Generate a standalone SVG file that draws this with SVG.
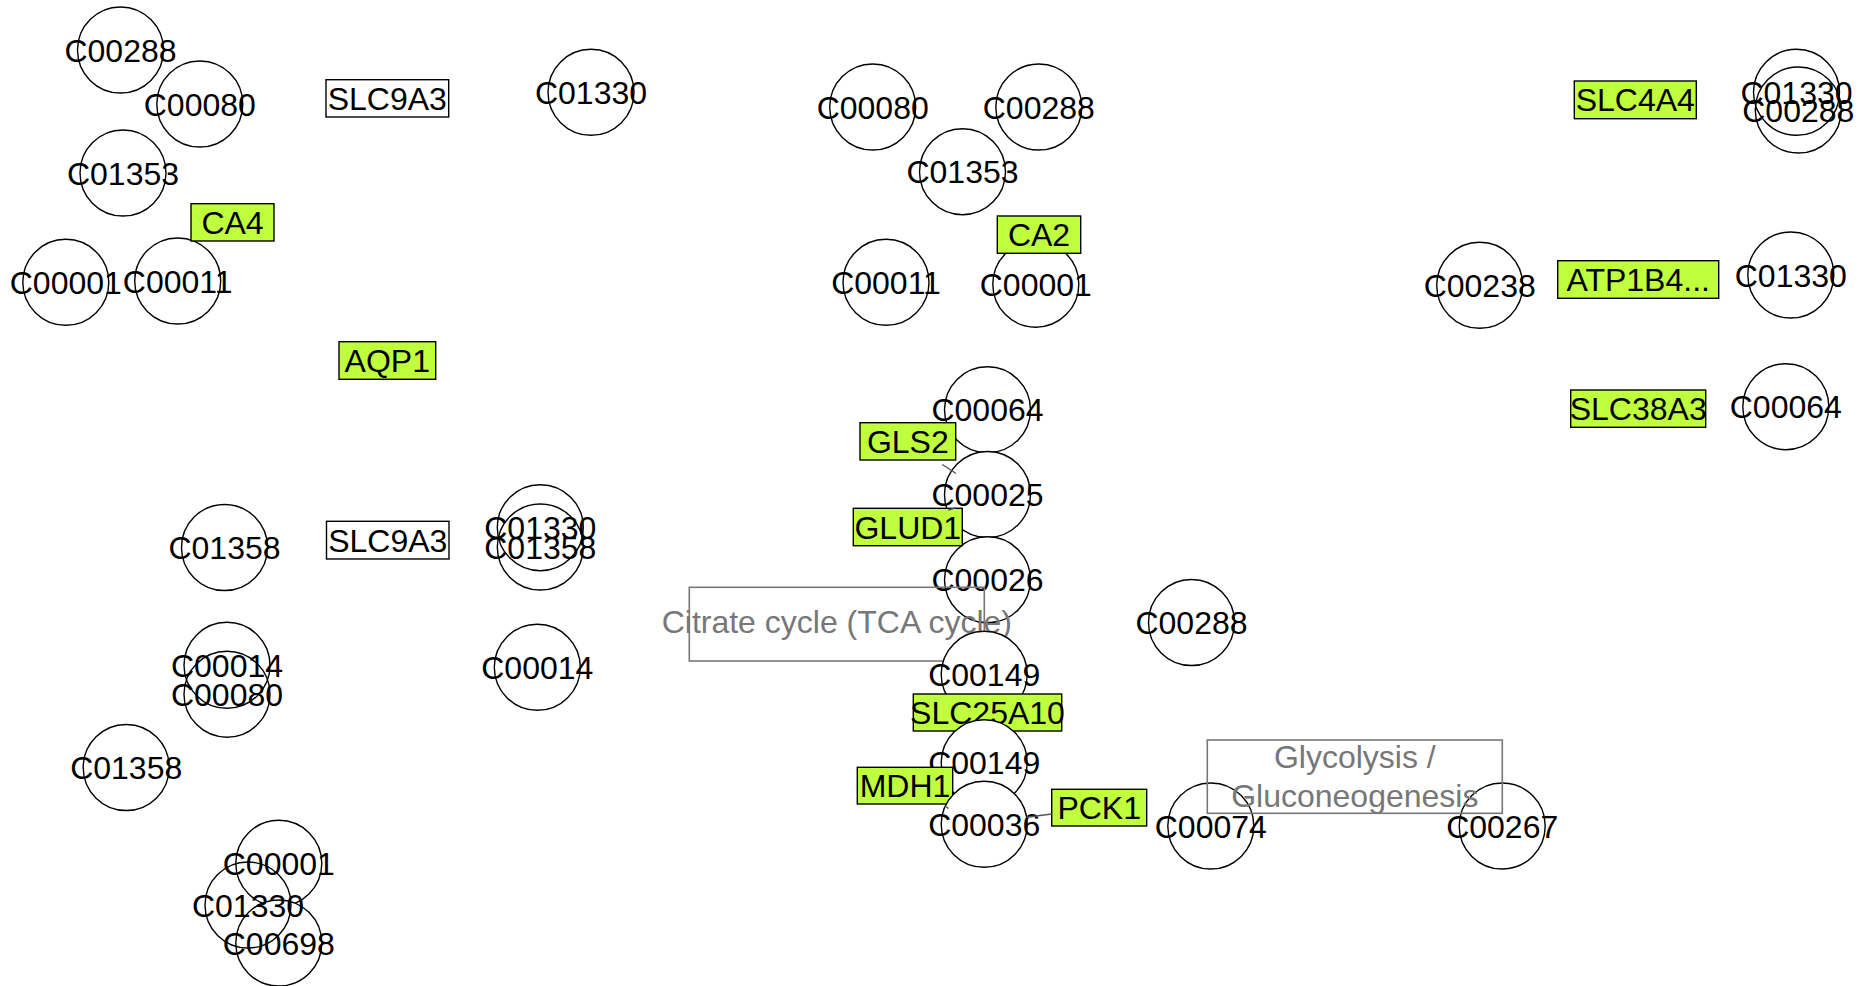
<svg xmlns="http://www.w3.org/2000/svg" width="1869" height="986" viewBox="0 0 1869 986">
<style>
  .bg { fill: #ffffff; }
  .cpd circle { fill: #ffffff; stroke: #000000; stroke-width: 1.4; }
  .cpd.open circle { fill: none; }
  .gene rect { fill: #c0ff3e; stroke: #000000; stroke-width: 1.4; }
  .gene.plain rect { fill: #ffffff; }
  .path rect { fill: none; stroke: #777777; stroke-width: 1.6; }
  text { font-family: "Liberation Sans", Arial, sans-serif; font-size: 32px; text-anchor: middle; fill: #000000; }
  .path text { fill: #777777; }
  #edges line { stroke: #555555; stroke-width: 1.4; fill: none; }
</style>
<rect class="bg" x="0" y="0" width="1869" height="986"/>

<!-- left cluster -->
<g id="n-C00288-a" class="cpd"><circle cx="120.5" cy="50" r="43"/><text x="120.5" y="61.5">C00288</text></g>
<g id="n-C00080-a" class="cpd"><circle cx="199.8" cy="104" r="43"/><text x="199.8" y="115.5">C00080</text></g>
<g id="n-C01353-a" class="cpd"><circle cx="123" cy="173" r="43"/><text x="123" y="184.5">C01353</text></g>
<g id="n-C00001-a" class="cpd"><circle cx="65.8" cy="282.3" r="43"/><text x="65.8" y="293.8">C00001</text></g>
<g id="n-C00011-a" class="cpd"><circle cx="177.7" cy="281" r="43"/><text x="177.7" y="292.5">C00011</text></g>
<g id="n-CA4" class="gene"><rect x="191" y="203.7" width="83" height="37.3"/><text x="232.5" y="233.8">CA4</text></g>
<g id="n-SLC9A3-a" class="gene plain"><rect x="326" y="79.7" width="122.7" height="37.3"/><text x="387.3" y="109.8">SLC9A3</text></g>
<g id="n-C01330-a" class="cpd"><circle cx="591" cy="92.3" r="43"/><text x="591" y="103.8">C01330</text></g>
<g id="n-AQP1" class="gene"><rect x="339" y="341.7" width="96.7" height="37.6"/><text x="387.3" y="372">AQP1</text></g>

<g id="n-C01358-a" class="cpd"><circle cx="224.5" cy="547.5" r="43"/><text x="224.5" y="559">C01358</text></g>
<g id="n-SLC9A3-b" class="gene plain"><rect x="326.5" y="521.3" width="122.5" height="37.7"/><text x="387.8" y="551.6">SLC9A3</text></g>
<g id="n-C01358-b" class="cpd"><circle cx="540.3" cy="547" r="43"/><text x="540.3" y="558.5">C01358</text></g>
<g id="n-C01330-b" class="cpd open"><circle cx="540.3" cy="527.7" r="43"/><text x="540.3" y="539.2">C01330</text></g>
<g id="n-C00014-a" class="cpd"><circle cx="227" cy="665.3" r="43"/><text x="227" y="676.8">C00014</text></g>
<g id="n-C00080-b" class="cpd open"><circle cx="227" cy="694.2" r="43"/><text x="227" y="705.7">C00080</text></g>
<g id="n-C00014-b" class="cpd"><circle cx="537.3" cy="667.3" r="43"/><text x="537.3" y="678.8">C00014</text></g>
<g id="n-C01358-c" class="cpd"><circle cx="126.2" cy="767.5" r="43"/><text x="126.2" y="779">C01358</text></g>
<g id="n-C00001-b" class="cpd"><circle cx="278.8" cy="863.3" r="43"/><text x="278.8" y="874.8">C00001</text></g>
<g id="n-C00698" class="cpd"><circle cx="278.8" cy="943" r="43"/><text x="278.8" y="954.5">C00698</text></g>
<g id="n-C01330-c" class="cpd open"><circle cx="248" cy="905" r="43"/><text x="248" y="916.5">C01330</text></g>

<!-- middle cluster -->
<g id="n-C00080-c" class="cpd"><circle cx="872.7" cy="107" r="43"/><text x="872.7" y="118.5">C00080</text></g>
<g id="n-C00288-b" class="cpd"><circle cx="1038.8" cy="107" r="43"/><text x="1038.8" y="118.5">C00288</text></g>
<g id="n-C01353-b" class="cpd"><circle cx="962.5" cy="171.7" r="43"/><text x="962.5" y="183.2">C01353</text></g>
<g id="n-C00011-b" class="cpd"><circle cx="886" cy="282.3" r="43"/><text x="886" y="293.8">C00011</text></g>
<g id="n-C00001-c" class="cpd"><circle cx="1035.8" cy="284.2" r="43"/><text x="1035.8" y="295.7">C00001</text></g>
<g id="n-CA2" class="gene"><rect x="997.3" y="216" width="83.4" height="37.3"/><text x="1039" y="246.1">CA2</text></g>

<g id="n-C00064-a" class="cpd"><circle cx="987.5" cy="409.8" r="43"/><text x="987.5" y="421.3">C00064</text></g>
<g id="n-C00025" class="cpd"><circle cx="987.5" cy="494.5" r="43"/><text x="987.5" y="506">C00025</text></g>
<g id="n-C00026" class="cpd"><circle cx="987.5" cy="579.8" r="43"/><text x="987.5" y="591.3">C00026</text></g>
<g id="n-GLS2" class="gene"><rect x="860" y="422.7" width="95.7" height="37.3"/><text x="907.8" y="452.8">GLS2</text></g>
<g id="n-GLUD1" class="gene"><rect x="853.3" y="508.3" width="109" height="37.4"/><text x="907.8" y="538.5">GLUD1</text></g>
<g id="n-citrate-cycle" class="path"><rect x="689.3" y="587.3" width="295" height="73.7"/><text x="836.8" y="633.3">Citrate cycle (TCA cycle)</text></g>
<g id="n-C00149-a" class="cpd"><circle cx="984.2" cy="674.3" r="43"/><text x="984.2" y="685.8">C00149</text></g>
<g id="n-SLC25A10" class="gene"><rect x="913.3" y="694" width="148.4" height="37"/><text x="987.5" y="723.8">SLC25A10</text></g>
<g id="n-C00149-b" class="cpd"><circle cx="984.2" cy="762.7" r="43"/><text x="984.2" y="774.2">C00149</text></g>
<g id="n-MDH1" class="gene"><rect x="857.3" y="767.3" width="95.4" height="36.7"/><text x="905" y="797.2">MDH1</text></g>
<g id="n-C00036" class="cpd"><circle cx="984.2" cy="824.3" r="43"/><text x="984.2" y="835.8">C00036</text></g>
<g id="n-PCK1" class="gene"><rect x="1051.7" y="789.3" width="95" height="36.7"/><text x="1099.2" y="819.2">PCK1</text></g>
<g id="n-C00288-c" class="cpd"><circle cx="1191.5" cy="622.5" r="43"/><text x="1191.5" y="634">C00288</text></g>
<g id="n-C00074" class="cpd"><circle cx="1210.8" cy="826" r="43"/><text x="1210.8" y="837.5">C00074</text></g>
<g id="n-C00267" class="cpd"><circle cx="1502.2" cy="826" r="43"/><text x="1502.2" y="837.5">C00267</text></g>
<g id="n-glycolysis" class="path"><rect x="1207.3" y="740" width="295" height="73.3"/><text x="1354.8" y="768.3">Glycolysis /</text><text x="1354.8" y="807.3">Gluconeogenesis</text></g>

<!-- right cluster -->
<g id="n-SLC4A4" class="gene"><rect x="1574.3" y="81" width="122" height="37.7"/><text x="1635.3" y="111.3">SLC4A4</text></g>
<g id="n-C01330-d" class="cpd"><circle cx="1796.5" cy="92.3" r="43"/><text x="1796.5" y="103.8">C01330</text></g>
<g id="n-C00288-d" class="cpd open"><circle cx="1798.3" cy="110" r="43"/><text x="1798.3" y="121.5">C00288</text></g>
<g id="n-C00238" class="cpd"><circle cx="1479.7" cy="285.3" r="43"/><text x="1479.7" y="296.8">C00238</text></g>
<g id="n-ATP1B4" class="gene"><rect x="1557.7" y="260.7" width="161" height="37.6"/><text x="1638.2" y="291">ATP1B4...</text></g>
<g id="n-C01330-e" class="cpd"><circle cx="1790.8" cy="275" r="43"/><text x="1790.8" y="286.5">C01330</text></g>
<g id="n-SLC38A3" class="gene"><rect x="1570.7" y="390" width="135" height="37.3"/><text x="1638.2" y="420.1">SLC38A3</text></g>
<g id="n-C00064-b" class="cpd"><circle cx="1785.8" cy="406.7" r="43"/><text x="1785.8" y="418.2">C00064</text></g>

<g id="edges">
  <line x1="942.3" y1="464.5" x2="956" y2="473.5"/>
  <line x1="948.3" y1="510" x2="955.5" y2="507.8"/>
  <line x1="945" y1="806" x2="948.5" y2="808.5"/>
  <line x1="1026.7" y1="817.3" x2="1051.7" y2="814"/>
</g>
</svg>
